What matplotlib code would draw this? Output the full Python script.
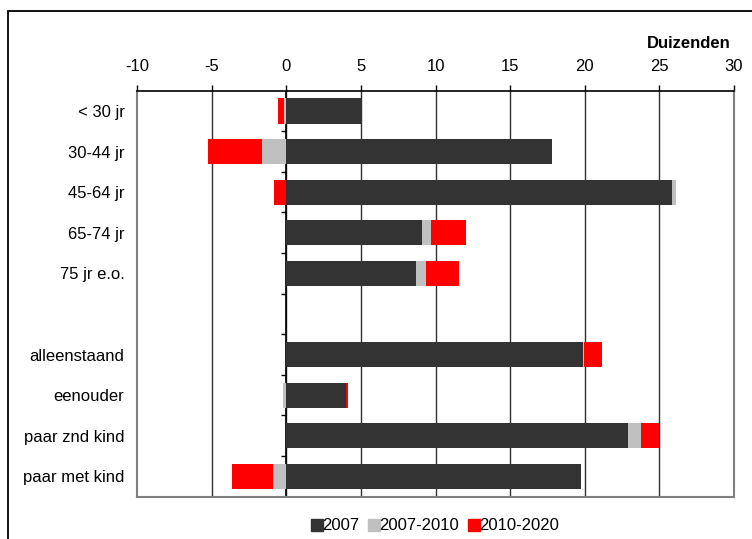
import numpy as np
import matplotlib.pyplot as plt
from matplotlib.patches import Rectangle
from matplotlib.lines import Line2D

plt.rcParams['font.family'] = ['Liberation Sans', 'DejaVu Sans']
plt.rcParams['axes.unicode_minus'] = False

# categories (empty slot between age groups and household types)
categories = ['< 30 jr', '30-44 jr', '45-64 jr', '65-74 jr', '75 jr e.o.', '',
              'alleenstaand', 'eenouder', 'paar znd kind', 'paar met kind']

# values in thousands
v2007 = [5.0, 17.8, 25.85, 9.1, 8.7, 0, 19.9, 4.0, 22.9, 19.75]
v2007_2010 = [-0.15, -1.65, 0.25, 0.6, 0.65, 0, 0.05, -0.2, 0.85, -0.9]
v2010_2020 = [-0.4, -3.6, -0.85, 2.35, 2.2, 0, 1.2, 0.15, 1.25, -2.75]

series = [('2007', v2007, '#333333'),
          ('2007-2010', v2007_2010, '#c0c0c0'),
          ('2010-2020', v2010_2020, '#ff0000')]

fs = 12

fig = plt.figure(figsize=(7.52, 5.39), dpi=100)
ax = fig.add_axes([137 / 752, 1 - 496.7 / 539, (734 - 137) / 752, (496.7 - 90.7) / 539])

y = np.arange(len(categories))
pos = np.zeros(len(categories))
neg = np.zeros(len(categories))
for name, vals, col in series:
    vals = np.array(vals, dtype=float)
    left = np.where(vals >= 0, pos, neg)
    ax.barh(y, vals, left=left, height=0.62, color=col, zorder=3)
    pos = np.where(vals >= 0, pos + vals, pos)
    neg = np.where(vals < 0, neg + vals, neg)

ax.set_xlim(-10, 30)
ax.set_ylim(len(categories) - 0.5, -0.5)
ax.xaxis.tick_top()
ax.set_xticks(np.arange(-10, 31, 5))
ax.tick_params(axis='x', direction='out', length=4, width=1, pad=8, labelsize=fs, color='black')
ax.set_yticks(y)
ax.set_yticklabels(categories, fontsize=fs)
ax.tick_params(axis='y', length=0, pad=9)

# vertical gridlines
for gx in np.arange(-5, 30, 5):
    ax.axvline(gx, color='#303030', lw=1, zorder=1)
# zero axis with slot tick marks
ax.axvline(0, color='black', lw=1.2, zorder=2)
ax.hlines(np.arange(0.5, len(categories), 1), -0.35, 0, color='black', lw=1, zorder=2)

for s in ['left', 'right', 'bottom']:
    ax.spines[s].set_color('#808080')
    ax.spines[s].set_linewidth(1.5)
ax.spines['top'].set_color('black')
ax.spines['top'].set_linewidth(1.2)

fig.text(731 / 752, 1 - 44 / 539, 'Duizenden', ha='right', va='center',
         fontsize=fs, fontweight='bold')

handles = [Line2D([], [], marker='s', linestyle='none', markersize=8,
                  markerfacecolor=c, markeredgecolor=c) for _, _, c in series]
fig.legend(handles, [n for n, _, _ in series], loc='center',
           bbox_to_anchor=(435 / 752, 1 - 526 / 539), ncol=3, frameon=False,
           fontsize=fs, handlelength=0.7, handletextpad=0.0, columnspacing=0.5)

# outer frame
fig.patches.append(Rectangle((8 / 752, -0.1), 1.2, 1 - 11 / 539 + 0.1,
                             transform=fig.transFigure, fill=False,
                             edgecolor='black', lw=1.3))

fig.savefig('out.png', dpi=100)
